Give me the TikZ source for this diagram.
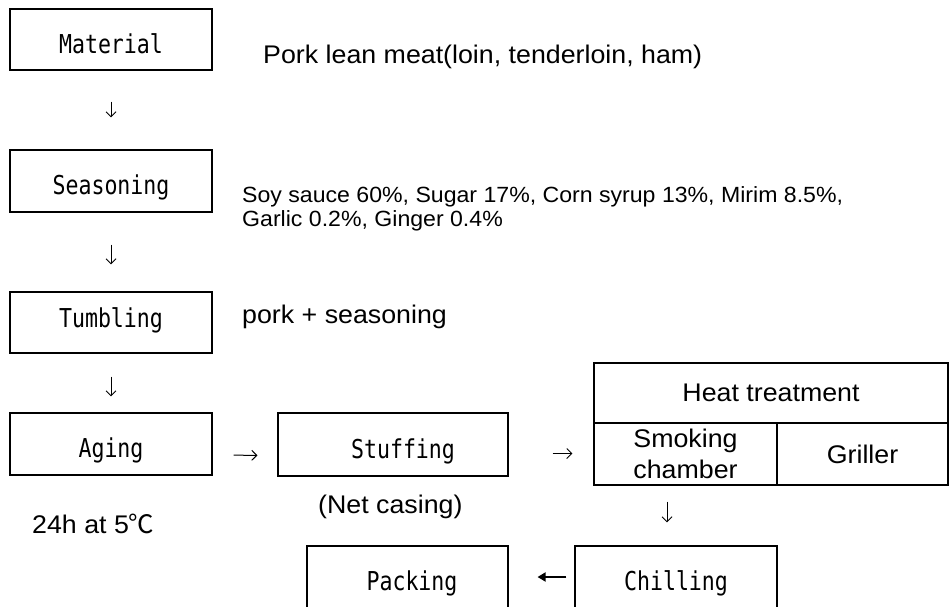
\documentclass[tikz,border=0pt]{standalone}
\usepackage{fontspec}
\setmainfont{Liberation Sans}[FakeStretch=1.05]
\newfontfamily\boxfont{DejaVu Sans Mono}[FakeStretch=0.83]
\newfontfamily\cjkfont{Noto Sans CJK KR}
\usetikzlibrary{arrows.meta}
\begin{document}
\begin{tikzpicture}[x=1pt,y=-1pt,
  stepbox/.style={draw, line width=1.1pt, minimum width=202pt, minimum height=61pt,
    inner sep=0pt, font=\boxfont\fontsize{26}{30}\selectfont, text height=27pt, text depth=0pt},
  cellbox/.style={draw, line width=1.1pt, inner sep=0pt, align=center,
    font=\fontsize{25.5}{31}\selectfont},
  note/.style={anchor=base west, inner sep=0pt, font=\fontsize{25.5}{30}\selectfont},
  smallnote/.style={anchor=base west, inner sep=0pt, font=\fontsize{22}{25}\selectfont},
  arr/.style={-{Straight Barb[length=5pt,width=10pt]}, line width=1pt},
  barr/.style={-{Triangle[length=8pt,width=9pt]}, line width=1.8pt}]
\useasboundingbox (0,0) rectangle (949,606);
\clip (0,0) rectangle (949,606);
% process boxes
\node[stepbox] (mat) at (111,39.5) {Material};
\node[stepbox, minimum height=62pt] (seas) at (111,181) {Seasoning};
\node[stepbox, text height=9pt] (tumb) at (111,322.5) {Tumbling};
\node[stepbox, minimum height=62pt] (aging) at (111,444) {Aging};
\node[stepbox, minimum width=230pt, minimum height=63pt] (stuff) at (393,444.5) {\hspace*{20pt}Stuffing};
\node[stepbox, minimum width=201pt, minimum height=62pt] (pack) at (407.5,577) {\hspace*{9pt}Packing};
\node[stepbox, minimum height=62pt] (chill) at (676,577) {Chilling};
% heat treatment table
\node[cellbox, minimum width=354pt, minimum height=60pt] (heat) at (771,393) {Heat treatment};
\node[cellbox, minimum width=183pt, minimum height=62pt] (smoke) at (685.5,454) {Smoking\\chamber};
\node[cellbox, minimum width=171pt, minimum height=62pt] (grill) at (862.5,454) {Griller};
% notes
\node[note] (porknote) at (263,63) {Pork lean meat(loin, tenderloin, ham)};
\node[smallnote] (soy1) at (242,202) {Soy sauce 60\%, Sugar 17\%, Corn syrup 13\%, Mirim 8.5\%,};
\node[smallnote] (soy2) at (242,226.5) {Garlic 0.2\%, Ginger 0.4\%};
\node[note] (mix) at (242,323) {pork + seasoning};
\node[note] (agenote) at (32,533) {24h at 5{\cjkfont ℃}};
\node[note] (net) at (318,513) {(Net casing)};
% connectors
\draw[arr, shorten <=31pt, shorten >=32pt] (mat.south) -- (seas.north);
\draw[arr, shorten <=32pt, shorten >=27pt] (seas.south) -- (tumb.north);
\draw[arr, shorten <=23pt, shorten >=16pt] (tumb.south) -- (aging.north);
\draw[arr, shorten <=21pt, shorten >=20pt] ([yshift=-11pt]aging.east) -- ([yshift=-11pt]stuff.west);
\draw[arr, shorten <=44pt, shorten >=21pt] ([yshift=-9pt]stuff.east) -- ([yshift=-9pt]stuff.east -| heat.west);
\draw[arr, shorten <=16pt, shorten >=23pt] ([xshift=-9pt]chill.north |- smoke.south) -- ([xshift=-9pt]chill.north);
\draw[barr, shorten <=8pt, shorten >=29pt] (chill.west) -- (pack.east);
\end{tikzpicture}
\end{document}
